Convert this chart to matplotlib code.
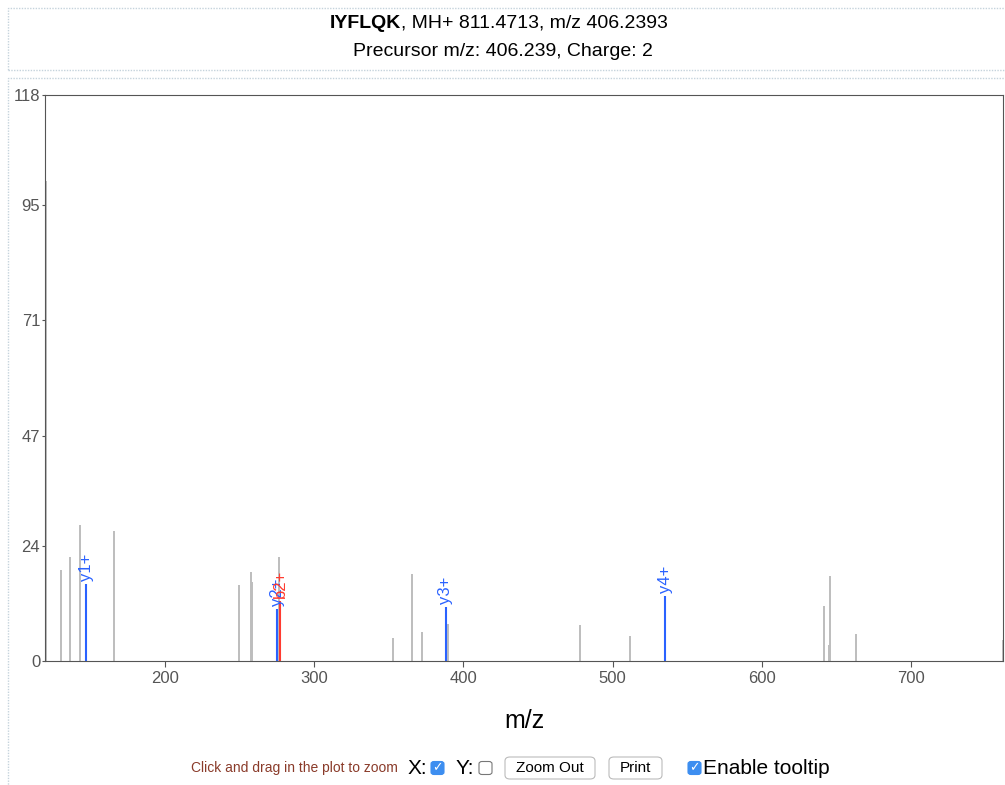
import matplotlib.pyplot as plt
from matplotlib.patches import Rectangle, FancyBboxPatch

plt.rcParams['font.family'] = ['Liberation Sans', 'DejaVu Sans']

# Unassigned peaks (grey)
mz = [120.08, 130.1, 136.4, 143.3, 165.6, 249.4, 257.6, 258.5, 276.6, 352.9,
      365.4, 372.6, 390.0, 478.2, 511.9, 641.4, 645.0, 645.9, 663.0, 761.5]
intensity = [100, 19.0, 21.6, 28.4, 27.2, 15.8, 18.6, 16.5, 21.6, 4.7,
             18.1, 6.1, 7.7, 7.6, 5.2, 11.5, 3.3, 17.8, 5.6, 4.4]

# Annotated fragment ions
ion_labels = ['y1+', 'y2+', 'b2+', 'y3+', 'y4+']
ion_mz = [147.11, 275.17, 277.16, 388.25, 535.32]
ion_int = [16.0, 10.8, 12.5, 11.3, 13.5]
ion_colors = ['#2a62ff', '#2a62ff', '#ff3b30', '#2a62ff', '#2a62ff']

y_ticks = [0, 24, 47, 71, 95, 118]

fig = plt.figure(figsize=(10.05, 7.85), dpi=100)

# dotted panel outlines
box_col = '#c5d3dc'
fig.patches.append(Rectangle((8 / 1005, 1 - 70 / 785), 1.2, 62 / 785, transform=fig.transFigure,
                             fill=False, ec=box_col, lw=1, ls=(0, (1, 1))))
fig.patches.append(Rectangle((8 / 1005, 1 - 790 / 785), 1.2, 712 / 785, transform=fig.transFigure,
                             fill=False, ec=box_col, lw=1, ls=(0, (1, 1))))

# title
split = 401 / 1005
fig.text(split, 1 - 23 / 785, 'IYFLQK', ha='right', va='center', fontsize=14, fontweight='bold')
fig.text(split, 1 - 23 / 785, ', MH+ 811.4713, m/z 406.2393', ha='left', va='center', fontsize=14)
fig.text(0.5, 1 - 51 / 785, 'Precursor m/z: 406.239, Charge: 2', ha='center', va='center', fontsize=14)

ax = fig.add_axes([45 / 1005, 1 - 661 / 785, 958 / 1005, 566 / 785])
ax.vlines(mz, 0, intensity, color='#bdbdbd', lw=1.4)
for lab, x, y, c in zip(ion_labels, ion_mz, ion_int, ion_colors):
    ax.vlines(x, 0, y, color=c, lw=1.5)
    ax.annotate(lab, (x, y), xytext=(0, 2), textcoords='offset points', rotation=90,
                ha='center', va='bottom', color=c, fontsize=12)

ax.set_xlim(119.6, 761.7)
ax.set_ylim(0, 118)
ax.set_yticks(y_ticks)
ax.set_xticks([200, 300, 400, 500, 600, 700])
ax.tick_params(colors='#555555', labelsize=12)
ax.tick_params(axis='x', length=4, pad=3)
ax.tick_params(axis='y', length=2, pad=1.5)
for s in ax.spines.values():
    s.set_color('#555555')
ax.set_xlabel('m/z', fontsize=18, labelpad=17)

# bottom controls
yc = 1 - 768 / 785
fig.text(191 / 1005, yc, 'Click and drag in the plot to zoom', fontsize=10, color='#8a3b2a', va='center')
fig.text(408 / 1005, yc, 'X:', fontsize=15, va='center')
fig.text(456 / 1005, yc, 'Y:', fontsize=15, va='center')
fig.text(703 / 1005, yc, 'Enable tooltip', fontsize=15, va='center')


def checkbox(x, checked):
    w = 13 / 1005
    h = 13 / 785
    fc = '#3d8ef0' if checked else 'white'
    ec = '#3d8ef0' if checked else '#777777'
    fig.patches.append(FancyBboxPatch((x / 1005, yc - h / 2), w, h, boxstyle='round,pad=0,rounding_size=0.003',
                                      transform=fig.transFigure, fc=fc, ec=ec, lw=0.8))
    if checked:
        fig.text(x / 1005 + w / 2, yc, '\u2713', color='white', fontsize=9, ha='center', va='center',
                 family='DejaVu Sans')


checkbox(431, True)
checkbox(479, False)
checkbox(688, True)

for x0, x1, lab in [(505, 595, 'Zoom Out'), (609, 662, 'Print')]:
    fig.patches.append(FancyBboxPatch((x0 / 1005, 1 - 779 / 785), (x1 - x0) / 1005, 22 / 785,
                                      boxstyle='round,pad=0,rounding_size=0.005',
                                      transform=fig.transFigure, fc='white', ec='#bbbbbb', lw=0.8))
    fig.text((x0 + x1) / 2 / 1005, yc, lab, fontsize=11, ha='center', va='center')

fig.savefig('out.png', dpi=100)
